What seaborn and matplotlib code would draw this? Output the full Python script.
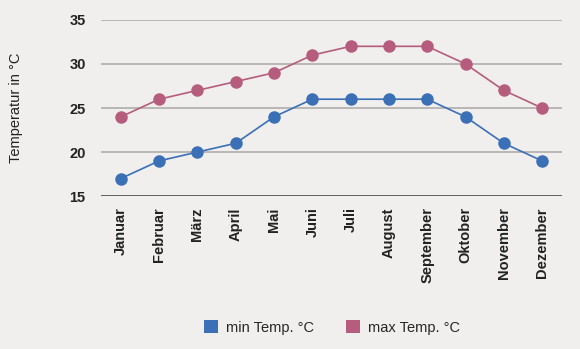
import matplotlib
matplotlib.use("Agg")
import matplotlib.pyplot as plt
from matplotlib.patches import Patch
import seaborn as sns
import pandas as pd

months = ["Januar", "Februar", "März", "April", "Mai", "Juni", "Juli",
          "August", "September", "Oktober", "November", "Dezember"]
min_temp = [17, 19, 20, 21, 24, 26, 26, 26, 26, 24, 21, 19]
max_temp = [24, 26, 27, 28, 29, 31, 32, 32, 32, 30, 27, 25]
series_names = ["min Temp. °C", "max Temp. °C"]
yticks = [15, 20, 25, 30, 35]

colors = ["#3b6fb6", "#b65c7c"]
bg = "#f0efee"

df = pd.DataFrame({
    "Monat": months * 2,
    "Temp": min_temp + max_temp,
    "Serie": [series_names[0]] * 12 + [series_names[1]] * 12,
})

sns.set_theme(style="white")
plt.rcParams["font.family"] = ["Liberation Sans", "DejaVu Sans"]

fig = plt.figure(figsize=(5.8, 3.49), dpi=100, facecolor=bg)
ax = fig.add_axes([0.174, 0.438, 0.795, 0.505])
ax.set_facecolor(bg)

sns.lineplot(data=df, x="Monat", y="Temp", hue="Serie", palette=colors,
             marker="o", markersize=9, markeredgewidth=0, linewidth=1.2,
             sort=False, legend=False, ax=ax)

ax.set_ylim(15, 35)
ax.set_xlim(-0.52, 11.52)
ax.set_yticks(yticks)
ax.set_yticklabels([str(t) for t in yticks], fontsize=10.5, fontweight="bold", color="#222222")
ax.set_xticks(range(12))
ax.set_xticklabels(months, rotation=90, fontsize=10.5, fontweight="bold", color="#222222")
ax.tick_params(axis="both", length=0, pad=8)
ax.tick_params(axis="y", pad=11)
for y in yticks[1:]:
    ax.axhline(y, color="#b0aeac", linewidth=1.2, zorder=0)
ax.axhline(15, color="#555555", linewidth=1.3, zorder=0)
for s in ax.spines.values():
    s.set_visible(False)
ax.set_xlabel("")
ax.set_ylabel("Temperatur in °C", fontsize=10.5, color="#222222", labelpad=33)

handles = [Patch(facecolor=c, edgecolor="none") for c in colors]
fig.legend(handles, series_names, loc="center", bbox_to_anchor=(0.572, 0.062),
           ncol=2, frameon=False, fontsize=10.5, handlelength=1.0, handleheight=1.0,
           columnspacing=2.2, handletextpad=0.5)

fig.savefig("out.png", dpi=100, facecolor=bg)
